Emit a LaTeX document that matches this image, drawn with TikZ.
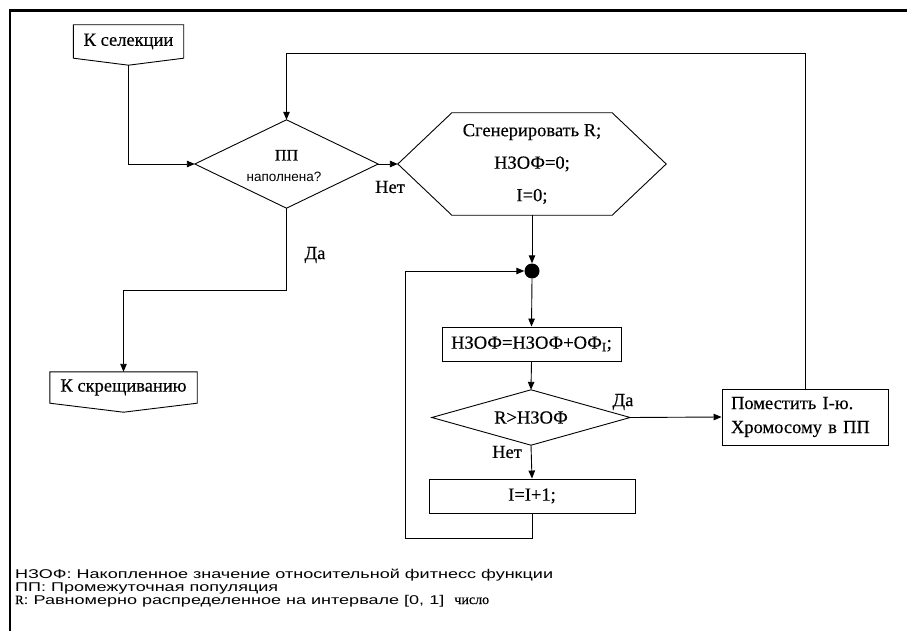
\documentclass[tikz,border=0pt]{standalone}
\usepackage{fontspec}
\setmainfont[FakeBold=0.3]{Liberation Serif}
\newfontfamily\legendfont[FakeStretch=1.42]{Liberation Sans}
\newfontfamily\qfont{Liberation Sans}
\usetikzlibrary{arrows.meta,calc}

\tikzset{
  flow/.style={draw=black, line width=0.9pt},
  arr/.style={flow, -{Triangle[length=8pt,width=6.5pt]}},
  hold/.style={draw=none, inner sep=0pt},
  box/.style={draw=black, line width=0.9pt, inner sep=0pt, font=\fontsize{18.5}{20}\selectfont},
  lbl/.style={inner sep=0pt, font=\fontsize{18.5}{20}\selectfont},
  legtext/.style={anchor=base west, inner sep=0pt, font=\legendfont\fontsize{12.7}{13}\selectfont},
  legserif/.style={font=\rmfamily\fontsize{14}{14}\selectfont},
}

\begin{document}
\begin{tikzpicture}[x=1pt,y=-1pt]
\useasboundingbox (0,0) rectangle (907,631);

% sheet edge
\draw[line width=2.5pt] (907,10.5) -- (9.75,10.5) -- (9.75,631);

% off-page connectors
\node[hold, lbl, minimum width=110pt, minimum height=33pt] (sel) at (128.5,41.5) {К селекции};
\draw[flow] (sel.north west) -- (sel.north east) -- (sel.south east)
  -- ($(sel.south)+(0,7)$) coordinate (selp) -- (sel.south west) -- cycle;

\node[hold, lbl, minimum width=147pt, minimum height=31pt] (cross) at (123.5,387.5) {К скрещиванию};
\draw[flow] (cross.north west) -- (cross.north east) -- (cross.south east)
  -- ($(cross.south)+(0,9)$) -- (cross.south west) -- cycle;

% decision: is the intermediate population full?
\node[hold, minimum width=183pt, minimum height=88pt] (d1) at (286.5,164) {};
\draw[flow] (d1.north) -- (d1.east) -- (d1.south) -- (d1.west) -- cycle;
\node[inner sep=0pt, anchor=base, font=\fontsize{16}{16}\selectfont] (d1a) at (286.5,160.5) {ПП};
\node[inner sep=0pt, anchor=base, font=\qfont\fontsize{13.5}{14}\selectfont] (d1b) at (284,182) {наполнена?};

% preparation
\node[hold, align=center, minimum width=268pt, minimum height=102pt,
      font=\fontsize{18.5}{32.5}\selectfont] (hex) at (532,164)
  {Сгенерировать R;\\НЗОФ=0;\\I=0;};
\draw[flow] ($(hex.north west)+(54,0)$) -- ($(hex.north east)+(-54,0)$) -- (hex.east)
  -- ($(hex.south east)+(-54,0)$) -- ($(hex.south west)+(54,0)$) -- (hex.west) -- cycle;

% junction
\node[circle, fill=black, minimum size=15pt, inner sep=0pt] (dot) at (532,271) {};

% loop body
\node[box, minimum width=179pt, minimum height=34pt] (b1) at (531.5,344) {НЗОФ=НЗОФ+ОФ\textsubscript{I};};
\node[hold, lbl, minimum width=198pt, minimum height=55pt] (d2) at (531,417.5) {R>НЗОФ};
\draw[flow] (d2.north) -- (d2.east) -- (d2.south) -- (d2.west) -- cycle;
\node[box, minimum width=206pt, minimum height=34pt] (b2) at (532,496) {I=I+1;};

\node[box, align=left, text width=148pt, inner xsep=9pt, minimum height=56pt,
      font=\fontsize{18.5}{24}\selectfont] (put) at (805,417)
  {Поместить I-ю.\\Хромосому в ПП};

% branch labels
\node[lbl] (no1) at (390,187) {Нет};
\node[lbl] (yes1) at (315,255) {Да};
\node[lbl] (yes2) at (623,402) {Да};
\node[lbl] (no2) at (507,452) {Нет};

% connectors
\coordinate (top) at (286.5,53);
\coordinate (lp) at (405,538);
\draw[arr] (selp) |- (d1.west);
\draw[arr] (d1.east) -- (hex.west);
\draw[arr] (d1.south) -- ++(0,82) -| (cross.north);
\draw[arr] (hex.south) -- (dot.north);
\draw[arr] (dot.south) -- (b1.north);
\draw[arr] (b1.south) -- (d2.north);
\draw[arr] (d2.south) -- (b2.north);
\draw[arr] (d2.east) -- (put.west);
\draw[arr] (b2.south) |- (lp) |- (dot.west);
\draw[arr] (put.north) |- (top) -- (d1.north);

% legend
\node[legtext] (leg1) at (15,578) {НЗОФ: Накопленное значение относительной фитнесс функции};
\node[legtext] (leg2) at (15,591) {ПП: Промежуточная популяция};
\node[legtext] (leg3) at (15,604) {{\rmfamily R}: Равномерно распределенное на интервале [0, 1]\ \ {\rmfamily\fontsize{14}{14}\selectfont число}};
\end{tikzpicture}
\end{document}
